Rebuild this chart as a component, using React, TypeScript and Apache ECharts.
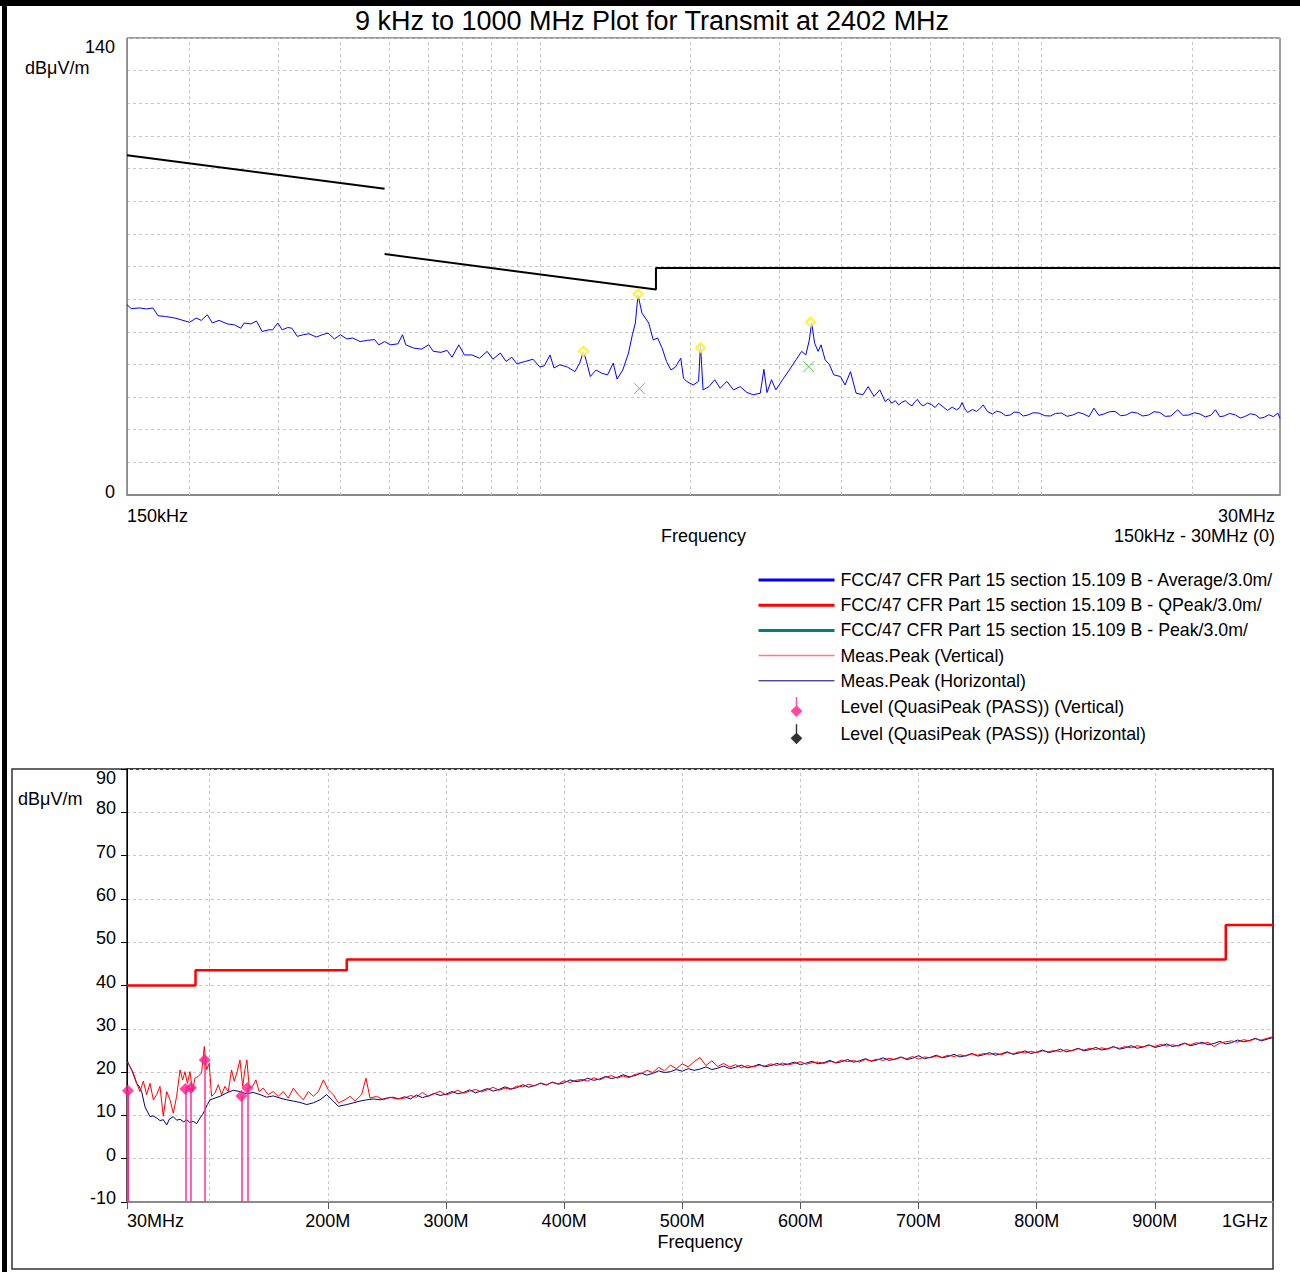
import React, { useEffect, useRef } from "react";
import * as echarts from "echarts";

const FONT = '"Liberation Sans", Arial, Helvetica, sans-serif';

// ---------- Top plot (150 kHz - 30 MHz), frequency in MHz ----------
const topTraceFreqMHz = [
  0.15, 0.153, 0.159, 0.164, 0.169, 0.173, 0.179, 0.187, 0.194, 0.2, 0.206, 0.211, 0.217, 0.222, 0.229, 0.238,
  0.246, 0.253, 0.257, 0.265, 0.272, 0.279, 0.288, 0.293, 0.3, 0.306, 0.314, 0.32, 0.328, 0.337, 0.346, 0.358,
  0.368, 0.378, 0.389, 0.4, 0.412, 0.423, 0.438, 0.453, 0.468, 0.477, 0.49, 0.503, 0.521, 0.532, 0.54, 0.56,
  0.581, 0.6, 0.613, 0.635, 0.653, 0.668, 0.689, 0.707, 0.732, 0.758, 0.785, 0.806, 0.834, 0.856, 0.879, 0.9,
  0.934, 0.969, 1.0, 1.021, 1.048, 1.067, 1.096, 1.135, 1.175, 1.201, 1.222, 1.239, 1.261, 1.295, 1.329, 1.365,
  1.401, 1.426, 1.464, 1.503, 1.53, 1.551, 1.57, 1.599, 1.649, 1.684, 1.718, 1.754, 1.79, 1.827, 1.865, 1.911,
  1.935, 1.963, 2.024, 2.074, 2.092, 2.117, 2.175, 2.234, 2.29, 2.362, 2.435, 2.51, 2.59, 2.67, 2.754, 2.8,
  2.84, 2.9, 2.958, 3.05, 3.147, 3.245, 3.33, 3.395, 3.45, 3.486, 3.535, 3.592, 3.64, 3.71, 3.785, 3.86,
  3.98, 4.065, 4.168, 4.277, 4.413, 4.52, 4.645, 4.77, 4.89, 4.96, 5.04, 5.12, 5.2, 5.28, 5.36, 5.45,
  5.53, 5.6, 5.67, 5.74, 5.82, 5.94, 6.06, 6.15, 6.25, 6.38, 6.51, 6.65, 6.79, 6.88, 6.96, 7.05,
  7.14, 7.3, 7.44, 7.55, 7.67, 7.82, 8.0, 8.16, 8.33, 8.5, 8.68, 8.85, 9.04, 9.22, 9.42, 9.65,
  9.91, 10.17, 10.44, 10.7, 10.99, 11.28, 11.57, 11.88, 12.18, 12.47, 12.76, 13.05, 13.35, 13.7, 14.06, 14.42,
  14.8, 15.18, 15.57, 15.97, 16.39, 16.82, 17.26, 17.7, 18.17, 18.74, 19.2, 19.73, 20.25, 20.77, 21.3, 21.87,
  22.3, 22.75, 23.2, 23.8, 24.45, 25.0, 25.5, 26.2, 26.84, 27.35, 27.9, 28.5, 29.1, 29.7, 30.0,
];
const topTraceLevel = [
  58.3, 57.1, 57.3, 57.0, 57.3, 54.9, 54.7, 54.2, 53.5, 52.9, 54.2, 53.5, 55.2, 52.7, 53.5, 52.4,
  52.1, 51.1, 52.7, 52.4, 53.3, 50.1, 50.6, 50.6, 52.7, 50.6, 51.3, 51.1, 48.6, 49.1, 49.4, 48.4,
  49.1, 49.6, 47.8, 49.1, 47.8, 48.1, 47.0, 47.4, 47.6, 46.0, 47.0, 46.0, 46.3, 49.1, 46.0, 45.0,
  44.7, 46.0, 44.0, 43.7, 44.3, 42.2, 46.0, 42.9, 42.9, 41.9, 44.0, 41.6, 43.5, 40.9, 42.2, 40.2,
  40.9, 41.6, 39.2, 39.6, 42.9, 38.9, 39.9, 39.2, 37.8, 40.4, 44.0, 40.9, 36.3, 38.3, 37.3, 36.8,
  40.4, 35.5, 38.3, 43.5, 49.1, 52.7, 61.3, 55.7, 52.7, 47.5, 48.1, 45.0, 40.9, 38.3, 39.2, 41.9,
  35.8, 34.8, 33.7, 34.8, 46.0, 32.2, 33.2, 35.3, 32.7, 34.8, 32.2, 33.2, 31.4, 30.7, 31.2, 38.5,
  31.4, 35.3, 32.2, 35.3, 38.3, 41.4, 44.0, 42.9, 47.5, 52.9, 46.5, 44.0, 46.0, 41.4, 39.9, 36.8,
  36.3, 33.7, 37.8, 31.2, 30.7, 33.2, 30.2, 32.2, 28.6, 29.5, 28.1, 28.9, 27.6, 28.4, 28.9, 27.9,
  27.3, 28.5, 29.3, 28.0, 27.3, 28.2, 27.6, 26.8, 28.1, 27.0, 25.9, 26.9, 26.1, 26.7, 28.3, 26.4,
  25.3, 26.2, 25.6, 26.4, 27.6, 25.6, 24.8, 25.7, 25.3, 24.3, 24.5, 25.4, 25.3, 24.2, 24.5, 25.2,
  25.1, 24.3, 24.2, 25.0, 25.1, 24.1, 24.5, 25.3, 24.8, 24.0, 26.6, 24.4, 24.8, 25.5, 25.6, 24.3,
  24.5, 25.4, 25.1, 24.2, 24.5, 25.5, 25.3, 24.1, 24.2, 26.1, 24.4, 24.5, 25.2, 24.8, 23.9, 24.5,
  26.1, 24.0, 24.2, 25.0, 24.5, 23.6, 24.0, 24.9, 24.5, 23.5, 23.8, 24.6, 24.0, 25.1, 23.5,
];
const topLimitFreqMHz = [0.15, 0.49, 0.49, 0.49, 1.705, 1.705, 30];
const topLimitLevel = [104.08, 93.8, null, 73.8, 62.97, 69.54, 69.54];
const topPeakFreqMHz = [1.222, 1.57, 2.092, 3.47];
const topPeakLevel = [44.0, 61.6, 45.1, 53.0];
const topQpFreqMHz = [1.58, 3.44];
const topQpLevel = [32.6, 39.3];
const topGridFreqMHz = [0.2, 0.3, 0.4, 0.5, 0.6, 0.7, 0.8, 0.9, 1, 2, 3, 4, 5, 6, 7, 8, 9, 10, 20];

// ---------- Bottom plot (30 MHz - 1 GHz) ----------
const bottomTickFreqMHz = [30, 200, 300, 400, 500, 600, 700, 800, 900, 1000];
const bottomGridFreqMHz = [100, 200, 300, 400, 500, 600, 700, 800, 900];
const qpLimitFreqMHz = [30, 88, 88, 216, 216, 960, 960, 1000];
const qpLimitLevel = [40, 40, 43.5, 43.5, 46, 46, 54, 54];

const horizLowFreqMHz = [
  30, 32, 34, 36, 38.2, 40, 42.4, 45.2, 47, 49.5, 52, 55.1, 58, 60.7, 63.6, 66, 69.2, 72, 74.9, 78,
  80.5, 83, 86.1, 89, 91.8, 94, 96, 98, 100.3, 104.5, 108.7, 114.4, 120, 125.6, 131.3, 136.9, 142.6, 148.2,
  153.8, 159.5, 165.2, 170.8, 176.4, 182.1, 187.7, 193.4, 199, 204.6, 208.9, 216, 221.6, 227.2, 232.9, 238.5,
  244.2, 249.8, 255, 260,
];
const horizLowLevel = [
  22.8, 21.5, 20.5, 19.0, 17.4, 16.8, 15.5, 12.0, 11.0, 9.7, 9.9, 9.4, 8.8, 9.0, 7.8, 9.2, 9.7, 8.9, 9.1, 8.5,
  9.0, 8.4, 8.6, 8.1, 9.4, 10.2, 11.3, 12.5, 13.6, 14.0, 14.4, 15.2, 15.8, 15.5, 15.0, 15.3, 14.8, 14.2,
  14.5, 14.0, 13.6, 13.3, 13.0, 12.5, 12.9, 13.6, 14.8, 13.3, 12.1, 12.5, 12.9, 13.3, 13.6, 13.8,
  13.6, 14.0, 14.2, 13.8,
];
const vertLowFreqMHz = [
  30, 32.5, 35.4, 38.2, 41, 43.8, 46.6, 49.5, 52.3, 55.1, 57.9, 60.7, 63.6, 66.4, 69.2, 72, 74.9, 77.1, 79.1, 81.1,
  83.3, 85.5, 87.5, 90.3, 93.1, 95.4, 97.3, 99.6, 101.6, 104.5, 107.3, 110.1, 112.9, 115.7, 118.5, 120.8, 123.3, 125.6,
  127.9, 129.8, 131.5, 133.5, 136.3, 139.1, 141.9, 145.3, 149.5, 153.8, 158, 162.3, 166.5, 170.8, 175, 179.2,
  183.5, 187.7, 192, 196.2, 200.4, 204.6, 208.9, 214.5, 218.8, 223, 228.6, 232.3, 235.7, 241.3, 247, 252.6, 258.3,
];
const vertLowLevel = [
  22.4, 21.3, 19.8, 17.4, 15.5, 17.9, 14.8, 17.4, 13.6, 14.8, 16.7, 9.8, 15.5, 13.6, 10.5, 14.4, 20.5, 18.2, 20.1, 17.4,
  20.1, 15.5, 18.6, 19.0, 19.8, 25.9, 20.5, 22.0, 14.4, 15.2, 17.1, 14.8, 16.7, 15.5, 20.5, 17.9, 20.1, 22.8,
  16.7, 20.5, 22.8, 16.3, 16.7, 18.2, 15.5, 16.3, 14.8, 15.5, 14.4, 15.5, 14.0, 16.3, 14.8, 13.6,
  15.5, 14.4, 15.5, 18.2, 15.9, 14.8, 12.9, 13.6, 14.4, 13.3, 14.8, 18.6, 14.0, 14.4, 13.6, 14.2, 13.8,
];
// 265 .. 1000 MHz, 5 MHz steps
const highFreqMHz = [
  265, 270, 275, 280, 285, 290, 295, 300, 305, 310, 315, 320, 325, 330, 335, 340, 345, 350, 355, 360,
  365, 370, 375, 380, 385, 390, 395, 400, 405, 410, 415, 420, 425, 430, 435, 440, 445, 450, 455, 460,
  465, 470, 475, 480, 485, 490, 495, 500, 505, 510, 515, 520, 525, 530, 535, 540, 545, 550, 555, 560,
  565, 570, 575, 580, 585, 590, 595, 600, 605, 610, 615, 620, 625, 630, 635, 640, 645, 650, 655, 660,
  665, 670, 675, 680, 685, 690, 695, 700, 705, 710, 715, 720, 725, 730, 735, 740, 745, 750, 755, 760,
  765, 770, 775, 780, 785, 790, 795, 800, 805, 810, 815, 820, 825, 830, 835, 840, 845, 850, 855, 860,
  865, 870, 875, 880, 885, 890, 895, 900, 905, 910, 915, 920, 925, 930, 935, 940, 945, 950, 955, 960,
  965, 970, 975, 980, 985, 990, 995, 1000,
];
const horizHighLevel = [
  14.3, 13.8, 14.7, 14.1, 14.5, 15.1, 14.6, 14.9, 15.5, 15.0, 15.3, 15.9, 15.2, 15.7, 16.2, 15.6, 16.0, 16.6, 16.1, 16.4,
  17.1, 16.5, 16.9, 17.4, 17.0, 17.7, 17.2, 17.5, 18.2, 17.8, 18.0, 18.6, 18.1, 18.4, 19.0, 18.5, 18.8, 19.4, 18.9, 19.2,
  19.8, 19.3, 19.7, 20.3, 19.9, 20.1, 20.6, 20.2, 20.8, 20.4, 20.7, 21.2, 20.6, 20.9, 21.4, 20.8, 21.1, 21.6, 21.0, 21.3,
  21.8, 21.2, 21.5, 22.0, 21.6, 21.9, 22.3, 21.7, 22.1, 22.5, 21.9, 22.2, 22.7, 22.1, 22.4, 22.9, 22.3, 22.6, 23.1, 22.5,
  22.8, 23.3, 22.7, 23.0, 23.5, 22.9, 23.2, 23.8, 23.1, 23.4, 23.9, 23.3, 23.6, 24.1, 23.5, 23.8, 24.3, 23.7, 24.0, 24.5,
  23.9, 24.2, 24.7, 24.1, 24.4, 24.9, 24.3, 24.6, 25.1, 24.5, 24.8, 25.3, 24.7, 25.0, 25.5, 24.9, 25.2, 25.7, 25.1, 25.4,
  25.9, 25.3, 25.6, 26.1, 25.5, 25.8, 26.3, 25.7, 26.0, 26.5, 25.9, 26.2, 26.7, 26.1, 26.4, 26.9, 26.3, 26.6, 27.1, 26.5,
  26.8, 27.4, 27.0, 27.3, 27.8, 27.2, 27.6, 28.0,
];
const vertHighLevel = [
  14.0, 14.6, 14.2, 15.3, 14.4, 15.0, 15.6, 14.7, 15.2, 15.8, 15.1, 15.6, 16.0, 15.4, 15.9, 16.5, 15.8, 16.3, 16.0, 16.8,
  16.6, 17.2, 16.8, 17.5, 17.1, 17.6, 17.3, 18.0, 17.6, 18.1, 18.3, 17.9, 18.7, 18.2, 18.8, 19.2, 18.6, 19.1, 18.7, 19.5,
  19.6, 20.4, 19.9, 21.1, 20.3, 21.6, 20.8, 21.9, 21.2, 22.4, 23.4, 21.5, 22.6, 21.3, 22.0, 21.2, 21.7, 21.0, 21.5, 21.2,
  21.6, 21.4, 21.9, 21.5, 22.1, 21.7, 22.0, 22.4, 21.8, 22.2, 22.3, 22.0, 22.5, 22.2, 22.8, 22.4, 22.7, 22.3, 22.9, 22.6,
  23.0, 22.7, 23.2, 22.9, 23.4, 23.1, 23.6, 23.0, 23.5, 23.3, 23.7, 23.4, 23.9, 23.6, 24.0, 23.7, 24.2, 23.9, 24.3, 24.1,
  24.4, 24.0, 24.5, 24.2, 24.7, 24.4, 24.8, 24.5, 24.9, 24.7, 25.0, 24.7, 25.2, 24.9, 25.4, 25.1, 25.5, 25.2, 25.6, 25.3,
  25.8, 25.5, 25.9, 25.6, 26.1, 25.8, 26.2, 25.9, 26.4, 26.0, 26.3, 26.0, 26.6, 26.3, 26.8, 26.5, 26.9, 25.9, 26.7, 27.0,
  27.2, 26.9, 27.5, 27.2, 27.7, 27.4, 27.8, 28.2,
];
const levelVertFreqMHz = [30.8, 79.4, 84.2, 95.8, 126.8, 131.9];
const levelVertValue = [15.7, 16.1, 16.4, 22.8, 14.5, 16.3];

const NAME_AVG = "FCC/47 CFR Part 15 section 15.109 B - Average/3.0m/";
const NAME_QP = "FCC/47 CFR Part 15 section 15.109 B - QPeak/3.0m/";
const NAME_PK = "FCC/47 CFR Part 15 section 15.109 B - Peak/3.0m/";
const NAME_MV = "Meas.Peak (Vertical)";
const NAME_MH = "Meas.Peak (Horizontal)";
const NAME_LV = "Level (QuasiPeak (PASS)) (Vertical)";
const NAME_LH = "Level (QuasiPeak (PASS)) (Horizontal)";

const zip = (xs: number[], ys: (number | null)[]) => xs.map((x, i) => [x, ys[i]]);

export default function App() {
  const ref = useRef<HTMLDivElement>(null);
  useEffect(() => {
    const chart = echarts.init(ref.current!, null, { renderer: "svg" });
    const gridDash = { color: "#c6c6c6", width: 1, type: [3, 3] as any };
    const stemIcon = "path://M4.4,0L5.6,0L5.6,7.6L10,12L5,17L0,12L4.4,7.6Z";
    const hideSym = { opacity: 0, color: "transparent", borderColor: "transparent" };
    const stemPink = "#ff2f98";
    const lbl = { fontSize: 18, fontFamily: FONT, color: "#000" };
    const option: any = {
      animation: false,
      textStyle: { fontFamily: FONT },
      grid: [
        { left: 127, top: 38, width: 1153, height: 457, show: true, borderColor: "#3a3a3a", borderWidth: 1 },
        { left: 127, top: 769, width: 1146, height: 433, show: true, borderColor: "#222", borderWidth: 1.5 },
      ],
      xAxis: [
        {
          gridIndex: 0, type: "log", logBase: 10, min: 0.15, max: 30,
          name: "Frequency", nameLocation: "middle", nameGap: 32,
          nameTextStyle: { fontSize: 18, color: "#000", fontFamily: FONT },
          axisLine: { show: true, onZero: false, lineStyle: { color: "#8a8a8a", width: 2 } },
          axisTick: { show: false }, splitLine: { show: false },
          axisLabel: {
            color: "#000", margin: 12,
            showMinLabel: true, showMaxLabel: true, alignMinLabel: "left", alignMaxLabel: "right",
            formatter: (v: number) => (v < 0.16 ? "{a|150kHz}" : v > 29 ? "{r|30MHz}" : ""),
            rich: { a: lbl, r: { ...lbl, padding: [0, 5, 0, 0] } },
          },
        },
        {
          gridIndex: 1, type: "value", min: 30, max: 1000,
          name: "Frequency", nameLocation: "middle", nameGap: 31,
          nameTextStyle: { fontSize: 18, color: "#000", fontFamily: FONT },
          axisLine: { show: true, onZero: false, lineStyle: { color: "#8a8a8a", width: 2 } },
          axisTick: { show: true, customValues: bottomTickFreqMHz, length: 7, lineStyle: { color: "#555" } },
          splitLine: { show: false },
          axisLabel: {
            customValues: bottomTickFreqMHz, color: "#000", margin: 10,
            alignMinLabel: "left", alignMaxLabel: "right",
            formatter: (v: number) => (v === 30 ? "{a|30MHz}" : v === 1000 ? "{r|1GHz}" : `{a|${v}M}`),
            rich: { a: lbl, r: { ...lbl, padding: [0, 5, 0, 0] } },
          },
        },
      ],
      yAxis: [
        {
          gridIndex: 0, type: "value", min: 0, max: 140, interval: 10,
          axisLine: { show: true, lineStyle: { color: "#8a8a8a", width: 1 } },
          axisTick: { show: false },
          splitLine: { show: true, lineStyle: gridDash },
          axisLabel: {
            color: "#000", margin: 12, verticalAlignMaxLabel: "top",
            formatter: (v: number) => (v === 0 || v === 140 ? `{a|${v}}` : ""),
            rich: { a: { ...lbl, padding: [0, 0, 6, 0] } },
          },
        },
        {
          gridIndex: 1, type: "value", min: -10, max: 90, interval: 10,
          axisLine: { show: true, lineStyle: { color: "#000", width: 1 } },
          axisTick: { show: true, length: 6, lineStyle: { color: "#000" } },
          splitLine: { show: true, lineStyle: gridDash },
          axisLabel: {
            color: "#000", margin: 11, verticalAlignMaxLabel: "top",
            formatter: (v: number) => `{a|${v}}`,
            rich: { a: { ...lbl, padding: [0, 0, 8, 0] } },
          },
        },
      ],
      legend: {
        orient: "vertical", left: 757, top: 571, padding: 0, itemWidth: 76, itemHeight: 20, itemGap: 7.2,
        selectedMode: false,
        textStyle: { fontSize: 17.75, color: "#000", fontFamily: FONT, padding: [0, 0, 0, 1] },
        data: [
          { name: NAME_AVG, itemStyle: hideSym, lineStyle: { width: 3 } },
          { name: NAME_QP, itemStyle: hideSym, lineStyle: { width: 3 } },
          { name: NAME_PK, itemStyle: hideSym, lineStyle: { width: 3 } },
          { name: NAME_MV, itemStyle: hideSym, lineStyle: { color: "#ff7a7a", width: 1.5 } },
          { name: NAME_MH, itemStyle: hideSym, lineStyle: { width: 1 } },
          { name: NAME_LV, icon: stemIcon },
          { name: NAME_LH, icon: stemIcon },
        ],
      },
      graphic: [
        { type: "rect", shape: { x: 0, y: 0, width: 1300, height: 6 }, style: { fill: "#000" } },
        { type: "rect", shape: { x: 2, y: 0, width: 5, height: 1272 }, style: { fill: "#000" } },
        { type: "rect", shape: { x: 12, y: 769, width: 1261, height: 500 }, style: { fill: "none", stroke: "#333", lineWidth: 1.5 } },
        { type: "text", x: 652, y: 21, style: { text: "9 kHz to 1000 MHz Plot for Transmit at 2402 MHz", fontSize: 27, fontFamily: FONT, fill: "#000", align: "center", verticalAlign: "middle" } },
        { type: "text", x: 25, y: 68, style: { text: "dBμV/m", fontSize: 18, fontFamily: FONT, fill: "#000", align: "left", verticalAlign: "middle" } },
        { type: "text", x: 1275, y: 536, style: { text: "150kHz - 30MHz (0)", fontSize: 18, fontFamily: FONT, fill: "#000", align: "right", verticalAlign: "middle" } },
        { type: "text", x: 18, y: 799, style: { text: "dBμV/m", fontSize: 18, fontFamily: FONT, fill: "#000", align: "left", verticalAlign: "middle" } },
      ],
      series: [
        {
          name: "top-trace", type: "line", xAxisIndex: 0, yAxisIndex: 0, symbol: "none",
          data: zip(topTraceFreqMHz, topTraceLevel), color: "#0000ff", lineStyle: { color: "#0000ff", width: 1 }, z: 3,
        },
        {
          name: "top-limit", type: "line", xAxisIndex: 0, yAxisIndex: 0, symbol: "none", connectNulls: false,
          data: zip(topLimitFreqMHz, topLimitLevel), color: "#000", lineStyle: { color: "#000", width: 2 }, z: 4,
          markLine: {
            silent: true, symbol: "none", z: 1, label: { show: false }, lineStyle: gridDash,
            data: topGridFreqMHz.map((f) => ({ xAxis: f })),
          },
        },
        {
          name: "top-peaks", type: "scatter", xAxisIndex: 0, yAxisIndex: 0, symbol: "emptyDiamond", symbolSize: 9,
          data: zip(topPeakFreqMHz, topPeakLevel), itemStyle: { color: "#ffee00", borderWidth: 1 }, z: 6,
        },
        {
          name: "top-qp", type: "scatter", xAxisIndex: 0, yAxisIndex: 0, symbol: "path://M0,0L10,10M10,0L0,10", symbolSize: 11,
          data: zip(topQpFreqMHz, topQpLevel), itemStyle: { color: "none", borderColor: "#22cc22", borderWidth: 1 }, z: 6,
        },
        {
          name: NAME_AVG, type: "line", xAxisIndex: 1, yAxisIndex: 1, symbol: "none", data: [],
          color: "#0000ff", lineStyle: { color: "#0000ff", width: 3 },
        },
        {
          name: NAME_QP, type: "line", xAxisIndex: 1, yAxisIndex: 1, symbol: "none",
          data: zip(qpLimitFreqMHz, qpLimitLevel), color: "#ff0000", lineStyle: { color: "#ff0000", width: 2.5 }, z: 4,
          markLine: {
            silent: true, symbol: "none", z: 1, label: { show: false }, lineStyle: gridDash,
            data: bottomGridFreqMHz.map((f) => ({ xAxis: f })),
          },
        },
        {
          name: NAME_PK, type: "line", xAxisIndex: 1, yAxisIndex: 1, symbol: "none", data: [],
          color: "#008080", lineStyle: { color: "#008080", width: 3 },
        },
        {
          name: NAME_MH, type: "line", xAxisIndex: 1, yAxisIndex: 1, symbol: "none",
          data: zip(horizLowFreqMHz, horizLowLevel).concat(zip(highFreqMHz, horizHighLevel)),
          color: "#000080", lineStyle: { color: "#000080", width: 1 }, z: 2,
        },
        {
          name: NAME_MV, type: "line", xAxisIndex: 1, yAxisIndex: 1, symbol: "none",
          data: zip(vertLowFreqMHz, vertLowLevel).concat(zip(highFreqMHz, vertHighLevel)),
          color: "#ff0000", lineStyle: { color: "#ff0000", width: 1 }, z: 3,
        },
        {
          name: NAME_LV, type: "scatter", xAxisIndex: 1, yAxisIndex: 1, symbol: "diamond", symbolSize: 12,
          data: zip(levelVertFreqMHz, levelVertValue), color: "#ff1a8c", itemStyle: { color: "#ff1a8c" }, z: 6,
          markLine: {
            silent: true, symbol: "none", z: 5, label: { show: false },
            lineStyle: { color: stemPink, width: 1.5, type: "solid", opacity: 1 },
            data: levelVertFreqMHz.map((f, i) => [
              { coord: [f, levelVertValue[i]], lineStyle: { color: stemPink, width: i === 0 ? 2 : 1.5, type: "solid" } },
              { coord: [f, -10] },
            ]),
          },
        },
        {
          name: NAME_LH, type: "scatter", xAxisIndex: 1, yAxisIndex: 1, symbol: "diamond", symbolSize: 11,
          data: [], color: "#000", itemStyle: { color: "#000" },
        },
      ],
    };
    chart.setOption(option);
    return () => chart.dispose();
  }, []);
  return (
    <div
      ref={ref}
      style={{ position: "absolute", left: 0, top: 0, width: 1300, height: 1272, background: "#fff" }}
    />
  );
}
